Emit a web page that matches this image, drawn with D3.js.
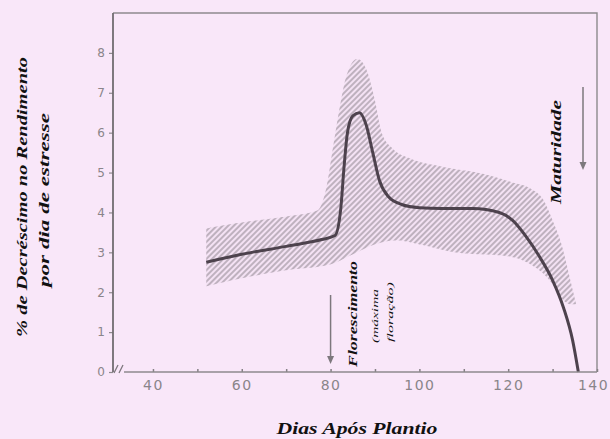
<!DOCTYPE html>
<html>
<head>
<meta charset="utf-8">
<script src="https://cdn.jsdelivr.net/npm/d3@7"></script>
<style>
  html, body { margin: 0; padding: 0; background: #f9e7f9; }
  svg { display: block; }
</style>
</head>
<body>
<div id="chart"></div>
<script>
// dias após plantio / % decréscimo (curva média)
const curveDays = [52, 60, 70, 78, 81, 82.3, 83, 83.8, 85, 86.5, 88, 89.5, 91, 93, 96, 100, 105, 112, 118, 121, 124, 127, 130, 132.5, 134.5, 135.8];
const curveValues = [2.75, 2.95, 3.15, 3.32, 3.42, 4.1, 5.1, 6.0, 6.42, 6.5, 6.2, 5.5, 4.8, 4.4, 4.2, 4.12, 4.1, 4.1, 4.0, 3.8, 3.4, 2.9, 2.3, 1.6, 0.8, 0];

// faixa hachurada (limite superior e inferior)
const upperDays = [52, 60, 70, 77, 79, 80.5, 82, 83.5, 86, 88, 90, 91.5, 94, 98, 105, 115, 121, 125, 128, 130, 132, 134, 135.3];
const upperValues = [3.6, 3.75, 3.9, 4.05, 4.6, 5.6, 6.6, 7.4, 7.85, 7.6, 6.8, 6.0, 5.6, 5.35, 5.15, 4.95, 4.75, 4.6, 4.3, 3.8, 3.2, 2.3, 1.7];
const lowerDays = [52, 60, 70, 80, 85, 90, 95, 100, 108, 120, 125, 128.5, 130, 132, 134, 135.3];
const lowerValues = [2.15, 2.35, 2.55, 2.7, 2.95, 3.2, 3.3, 3.2, 3.0, 2.9, 2.7, 2.4, 2.2, 1.85, 1.7, 1.7];

const xTicks = [40, 50, 60, 70, 80, 90, 100, 110, 120, 130, 140];
const yTicks = [0, 1, 2, 3, 4, 5, 6, 7, 8];

const width = 610;
const height = 439;
const plot = { left: 113, right: 597, top: 13, bottom: 372 };

const svg = d3.select('#chart')
  .append('svg')
  .attr('width', width)
  .attr('height', height);

svg.append('rect')
  .attr('width', width)
  .attr('height', height)
  .style('fill', '#f9e7f9');

const defs = svg.append('defs');
defs.append('pattern')
  .attr('id', 'hatch')
  .attr('patternUnits', 'userSpaceOnUse')
  .attr('width', 4)
  .attr('height', 4)
  .attr('patternTransform', 'rotate(45)')
  .call(p => {
    p.append('rect').attr('width', 4).attr('height', 4).style('fill', '#f4e2f4');
    p.append('line')
      .attr('x1', 1).attr('y1', 0).attr('x2', 1).attr('y2', 4)
      .attr('stroke', '#a89ca8')
      .attr('stroke-width', 1.4);
  });
defs.append('filter')
  .attr('id', 'soft')
  .append('feGaussianBlur')
  .attr('stdDeviation', 0.7);
defs.append('filter')
  .attr('id', 'soft2')
  .append('feGaussianBlur')
  .attr('stdDeviation', 0.4);

const x = d3.scaleLinear()
  .domain([31, 140])
  .range([plot.left, plot.right]);
const y = d3.scaleLinear()
  .domain([0, 9])
  .range([plot.bottom, plot.top]);

const lineGen = d3.line()
  .x(d => x(d[0]))
  .y(d => y(d[1]))
  .curve(d3.curveMonotoneX);

// band: sample both monotone edges, then close them into one polygon
const upper = upperDays.map((d, i) => [d, upperValues[i]]);
const lower = lowerDays.map((d, i) => [d, lowerValues[i]]);
const sampleEdge = (pts) => {
  const path = svg.append('path').attr('d', lineGen(pts));
  const node = path.node();
  const len = node.getTotalLength();
  const out = [];
  for (let t = 0; t <= len; t += 1.5) {
    const p = node.getPointAtLength(t);
    out.push([p.x, p.y]);
  }
  const end = node.getPointAtLength(len);
  out.push([end.x, end.y]);
  path.remove();
  return out;
};
const topPts = sampleEdge(upper);
const botPts = sampleEdge(lower).reverse();
svg.append('path')
  .attr('d', 'M' + topPts.concat(botPts).map(p => p.join(',')).join('L') + 'Z')
  .style('fill', 'url(#hatch)')
  .attr('filter', 'url(#soft)');

// mean curve
svg.append('path')
  .datum(curveDays.map((d, i) => [d, curveValues[i]]))
  .attr('d', lineGen)
  .style('fill', 'none')
  .style('stroke', '#4e434e')
  .style('stroke-width', 3)
  .attr('filter', 'url(#soft2)');

// frame
const frameColor = '#8e8a8e';
svg.append('path')
  .attr('d', `M${plot.left},${plot.top}H${plot.right}V${plot.bottom}`)
  .style('fill', 'none')
  .style('stroke', frameColor)
  .style('stroke-width', 1.4);

// axes
const yAxis = d3.axisLeft(y)
  .tickValues(yTicks)
  .tickSize(4)
  .tickPadding(4);
svg.append('g')
  .attr('transform', `translate(${plot.left},0)`)
  .call(yAxis)
  .call(g => {
    g.select('.domain').remove();
    g.selectAll('.tick line').attr('stroke', frameColor).attr('stroke-width', 1.2);
    g.selectAll('.tick text')
      .style('font-family', 'DejaVu Sans, sans-serif')
      .style('font-size', '12px')
      .style('fill', '#8a858a');
  });
svg.append('line')
  .attr('x1', plot.left).attr('x2', plot.left)
  .attr('y1', plot.top).attr('y2', plot.bottom)
  .attr('stroke', '#716c71')
  .attr('stroke-width', 1.8);

const xAxis = d3.axisBottom(x)
  .tickValues(xTicks)
  .tickSize(-3)
  .tickPadding(8)
  .tickFormat(d => (d % 20 === 0 ? d : ''));
svg.append('g')
  .attr('transform', `translate(0,${plot.bottom})`)
  .call(xAxis)
  .call(g => {
    g.select('.domain').remove();
    g.selectAll('.tick line').attr('stroke', '#858085').attr('stroke-width', 1.5);
    g.selectAll('.tick text')
      .style('font-family', 'DejaVu Sans, sans-serif')
      .style('font-size', '14px')
      .style('letter-spacing', '1.5px')
      .style('fill', '#8a858a')
      // the last label sits on the window edge
      .attr('dx', d => (d === 140 ? -4 : 0));
  });
svg.append('line')
  .attr('x1', plot.left + 11).attr('x2', plot.right)
  .attr('y1', plot.bottom).attr('y2', plot.bottom)
  .attr('stroke', frameColor)
  .attr('stroke-width', 1.6);

// axis break "//"
[0, 5].forEach(dx => {
  svg.append('line')
    .attr('x1', plot.left + 1 + dx).attr('y1', plot.bottom + 1)
    .attr('x2', plot.left + 5 + dx).attr('y2', plot.bottom - 7)
    .attr('stroke', '#7a757a')
    .attr('stroke-width', 1.3);
});

// arrows
const arrow = (ax, y1, y2) => {
  svg.append('line')
    .attr('x1', ax).attr('x2', ax)
    .attr('y1', y1).attr('y2', y2 - 6)
    .attr('stroke', '#7d787d')
    .attr('stroke-width', 1.5);
  svg.append('path')
    .attr('d', `M${ax - 3.5},${y2 - 8}L${ax + 3.5},${y2 - 8}L${ax},${y2}Z`)
    .style('fill', '#7d787d');
};
arrow(x(80), 295, 364);
arrow(583, 87, 170);

const serif = 'Liberation Serif, Times New Roman, serif';
const vText = (tx, ty, str, size, len, weight = 'bold') => {
  svg.append('text')
    .attr('transform', `translate(${tx},${ty}) rotate(-90)`)
    .attr('text-anchor', 'middle')
    .attr('textLength', len)
    .attr('lengthAdjust', 'spacingAndGlyphs')
    .style('font-family', serif)
    .style('font-style', 'italic')
    .style('font-weight', weight)
    .style('font-size', `${size}px`)
    .style('fill', '#111')
    .text(str);
};

// annotations
vText(357, 314, 'Florescimento', 13, 106);
vText(378, 316, '(máxima', 9, 54, 'normal');
vText(393, 312, 'floração)', 9, 60, 'normal');
vText(561, 152, 'Maturidade', 14, 104);

// axis titles
vText(27, 197, '% de Decréscimo no Rendimento', 15, 280);
vText(49, 200, 'por dia de estresse', 15, 174);

svg.append('text')
  .attr('x', 357)
  .attr('y', 434)
  .attr('text-anchor', 'middle')
  .attr('textLength', 161)
  .attr('lengthAdjust', 'spacingAndGlyphs')
  .style('font-family', serif)
  .style('font-style', 'italic')
  .style('font-weight', 'bold')
  .style('font-size', '16px')
  .style('fill', '#111')
  .text('Dias Após Plantio');
</script>
</body>
</html>
